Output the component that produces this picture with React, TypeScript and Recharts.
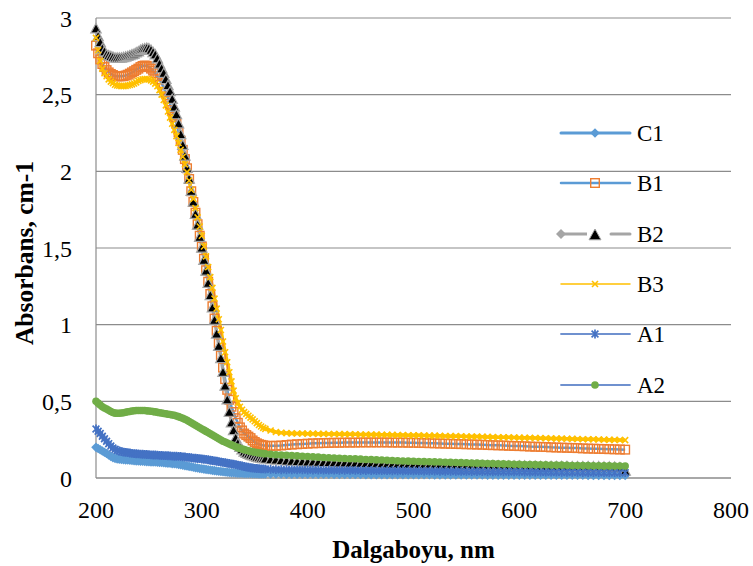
import { CartesianGrid, Label, Line, LineChart, XAxis, YAxis } from "recharts";

// wavelength grid, nm: every 2 nm up to 360, then every 5 nm to 700
const wavelengths = [
  ...Array.from({ length: 81 }, (_, i) => 200 + i * 2),
  ...Array.from({ length: 68 }, (_, i) => 365 + i * 5),
];

const c1 = [
  // 200-360 (2 nm)
  0.2, 0.192, 0.184, 0.176, 0.168, 0.16, 0.15, 0.14, 0.133, 0.128,
  0.125, 0.123, 0.121, 0.119, 0.118, 0.117, 0.116, 0.115, 0.113, 0.112,
  0.111, 0.11, 0.109, 0.108, 0.107, 0.106, 0.105, 0.104, 0.104, 0.103,
  0.102, 0.101, 0.1, 0.098, 0.097, 0.096, 0.094, 0.093, 0.091, 0.089,
  0.087, 0.084, 0.081, 0.078, 0.076, 0.073, 0.07, 0.067, 0.065, 0.062,
  0.06, 0.058, 0.056, 0.054, 0.052, 0.05, 0.048, 0.046, 0.044, 0.042,
  0.041, 0.039, 0.038, 0.036, 0.035, 0.034, 0.033, 0.032, 0.031, 0.031,
  0.03, 0.03, 0.029, 0.029, 0.028, 0.028, 0.028, 0.027, 0.027, 0.027,
  0.027,
  // 365-700 (5 nm)
  0.026, 0.026, 0.026, 0.025, 0.025, 0.025, 0.025,
  0.025, 0.024, 0.024, 0.024, 0.024, 0.023, 0.023, 0.023, 0.023, 0.023,
  0.023, 0.022, 0.022, 0.022, 0.022, 0.022, 0.022, 0.021, 0.021, 0.021,
  0.021, 0.021, 0.021, 0.021, 0.02, 0.02, 0.02, 0.02, 0.02, 0.02,
  0.02, 0.02, 0.02, 0.02, 0.019, 0.019, 0.019, 0.019, 0.019, 0.019,
  0.019, 0.019, 0.019, 0.018, 0.018, 0.018, 0.018, 0.018, 0.018, 0.018,
  0.018, 0.018, 0.018, 0.017, 0.017, 0.017, 0.017, 0.017, 0.017, 0.017,
  0.017,
];

const b1 = [
  2.82, 2.77, 2.73, 2.7, 2.68, 2.66, 2.645, 2.635, 2.628, 2.622,
  2.62, 2.62, 2.62, 2.621, 2.625, 2.63, 2.637, 2.645, 2.653, 2.662,
  2.67, 2.68, 2.687, 2.69, 2.688, 2.68, 2.67, 2.657, 2.64, 2.62,
  2.6, 2.575, 2.545, 2.515, 2.48, 2.44, 2.4, 2.355, 2.31, 2.255,
  2.2, 2.14, 2.08, 2.02, 1.95, 1.87, 1.8, 1.73, 1.655, 1.58,
  1.51, 1.43, 1.355, 1.28, 1.2, 1.12, 1.04, 0.96, 0.88, 0.8,
  0.72, 0.645, 0.575, 0.51, 0.465, 0.43, 0.39, 0.36, 0.33, 0.31,
  0.29, 0.28, 0.27, 0.26, 0.245, 0.235, 0.226, 0.22, 0.216, 0.213,
  0.21,
  0.21, 0.21, 0.212, 0.215, 0.218, 0.22, 0.222,
  0.224, 0.226, 0.227, 0.228, 0.229, 0.23, 0.23, 0.231, 0.231, 0.231,
  0.232, 0.232, 0.232, 0.232, 0.232, 0.232, 0.231, 0.231, 0.231, 0.23,
  0.23, 0.229, 0.228, 0.227, 0.226, 0.225, 0.224, 0.223, 0.222, 0.221,
  0.22, 0.219, 0.218, 0.217, 0.215, 0.214, 0.213, 0.212, 0.21, 0.209,
  0.208, 0.207, 0.205, 0.204, 0.203, 0.202, 0.2, 0.199, 0.198, 0.197,
  0.196, 0.195, 0.193, 0.192, 0.191, 0.19, 0.189, 0.188, 0.187, 0.186,
  0.185,
];

const b2 = [
  2.93, 2.88, 2.84, 2.8, 2.78, 2.76, 2.755, 2.75, 2.745, 2.74,
  2.74, 2.74, 2.74, 2.742, 2.746, 2.75, 2.755, 2.76, 2.765, 2.773,
  2.78, 2.79, 2.797, 2.8, 2.803, 2.8, 2.79, 2.775, 2.76, 2.735,
  2.7, 2.67, 2.64, 2.6, 2.56, 2.52, 2.47, 2.42, 2.37, 2.31,
  2.24, 2.17, 2.1, 2.02, 1.95, 1.87, 1.8, 1.72, 1.65, 1.57,
  1.5, 1.42, 1.35, 1.27, 1.19, 1.11, 1.03, 0.94, 0.86, 0.78,
  0.69, 0.6, 0.51, 0.43, 0.36, 0.31, 0.26, 0.225, 0.2, 0.185,
  0.17, 0.162, 0.155, 0.15, 0.145, 0.14, 0.136, 0.132, 0.129, 0.127,
  0.125,
  0.12, 0.118, 0.115, 0.112, 0.11, 0.108, 0.106,
  0.105, 0.104, 0.103, 0.102, 0.101, 0.1, 0.099, 0.098, 0.097, 0.096,
  0.095, 0.094, 0.093, 0.092, 0.091, 0.09, 0.089, 0.089, 0.088, 0.088,
  0.087, 0.087, 0.086, 0.086, 0.085, 0.085, 0.084, 0.084, 0.083, 0.083,
  0.082, 0.082, 0.081, 0.081, 0.08, 0.08, 0.08, 0.079, 0.079, 0.078,
  0.078, 0.078, 0.077, 0.077, 0.076, 0.076, 0.076, 0.075, 0.075, 0.075,
  0.074, 0.074, 0.074, 0.073, 0.073, 0.073, 0.072, 0.072, 0.071, 0.068,
  0.045,
];

const b3 = [
  2.87, 2.79, 2.72, 2.67, 2.64, 2.62, 2.6, 2.585, 2.575, 2.565,
  2.56, 2.558, 2.556, 2.556, 2.557, 2.56, 2.563, 2.567, 2.573, 2.58,
  2.59, 2.595, 2.6, 2.602, 2.602, 2.6, 2.593, 2.585, 2.572, 2.555,
  2.53, 2.5, 2.465, 2.43, 2.39, 2.35, 2.31, 2.27, 2.23, 2.185,
  2.14, 2.095, 2.045, 1.995, 1.94, 1.88, 1.82, 1.76, 1.7, 1.64,
  1.58, 1.51, 1.445, 1.375, 1.31, 1.24, 1.17, 1.105, 1.035, 0.965,
  0.89, 0.82, 0.755, 0.69, 0.63, 0.57, 0.52, 0.49, 0.465, 0.445,
  0.43, 0.418, 0.406, 0.394, 0.382, 0.37, 0.358, 0.346, 0.336, 0.327,
  0.32,
  0.31, 0.3, 0.295, 0.293, 0.291, 0.29, 0.29,
  0.289, 0.289, 0.288, 0.288, 0.287, 0.287, 0.286, 0.286, 0.285, 0.285,
  0.284, 0.284, 0.283, 0.283, 0.282, 0.282, 0.281, 0.28, 0.28, 0.279,
  0.278, 0.278, 0.277, 0.276, 0.276, 0.275, 0.274, 0.273, 0.273, 0.272,
  0.271, 0.27, 0.27, 0.269, 0.268, 0.267, 0.266, 0.266, 0.265, 0.264,
  0.263, 0.262, 0.262, 0.261, 0.26, 0.259, 0.258, 0.257, 0.257, 0.256,
  0.255, 0.254, 0.253, 0.253, 0.252, 0.251, 0.25, 0.249, 0.249, 0.248,
  0.247,
];

const a1 = [
  0.32, 0.305, 0.29, 0.272, 0.256, 0.24, 0.224, 0.208, 0.196, 0.187,
  0.18, 0.176, 0.172, 0.169, 0.167, 0.165, 0.163, 0.161, 0.159, 0.158,
  0.157, 0.156, 0.155, 0.154, 0.153, 0.152, 0.151, 0.15, 0.15, 0.149,
  0.148, 0.147, 0.146, 0.146, 0.145, 0.144, 0.143, 0.142, 0.142, 0.141,
  0.14, 0.138, 0.137, 0.135, 0.134, 0.132, 0.13, 0.129, 0.127, 0.126,
  0.124, 0.122, 0.121, 0.119, 0.116, 0.114, 0.112, 0.109, 0.107, 0.104,
  0.102, 0.1, 0.097, 0.095, 0.092, 0.09, 0.087, 0.084, 0.081, 0.078,
  0.075, 0.072, 0.07, 0.067, 0.065, 0.063, 0.062, 0.061, 0.06, 0.059,
  0.058,
  0.056, 0.055, 0.054, 0.054, 0.053, 0.053, 0.053,
  0.052, 0.052, 0.052, 0.051, 0.051, 0.051, 0.05, 0.05, 0.05, 0.05,
  0.049, 0.049, 0.049, 0.048, 0.048, 0.048, 0.047, 0.047, 0.047, 0.046,
  0.046, 0.046, 0.045, 0.045, 0.045, 0.044, 0.044, 0.044, 0.043, 0.043,
  0.043, 0.042, 0.042, 0.042, 0.041, 0.041, 0.041, 0.04, 0.04, 0.04,
  0.04, 0.039, 0.039, 0.039, 0.038, 0.038, 0.038, 0.038, 0.037, 0.037,
  0.037, 0.037, 0.036, 0.036, 0.036, 0.036, 0.035, 0.035, 0.035, 0.035,
  0.035,
];

const a2 = [
  0.5, 0.488, 0.476, 0.465, 0.457, 0.45, 0.442, 0.434, 0.427, 0.423,
  0.422, 0.422, 0.424, 0.426, 0.429, 0.432, 0.434, 0.437, 0.439, 0.44,
  0.44, 0.44, 0.44, 0.44, 0.438, 0.437, 0.435, 0.433, 0.431, 0.428,
  0.426, 0.424, 0.421, 0.419, 0.416, 0.414, 0.411, 0.409, 0.404, 0.4,
  0.395, 0.389, 0.383, 0.376, 0.368, 0.36, 0.352, 0.344, 0.336, 0.328,
  0.32, 0.312, 0.304, 0.296, 0.288, 0.28, 0.272, 0.264, 0.256, 0.248,
  0.24, 0.234, 0.228, 0.222, 0.216, 0.21, 0.204, 0.198, 0.193, 0.189,
  0.185, 0.181, 0.177, 0.174, 0.171, 0.168, 0.166, 0.163, 0.161, 0.159,
  0.158,
  0.155, 0.152, 0.15, 0.148, 0.146, 0.144, 0.142,
  0.14, 0.138, 0.136, 0.134, 0.132, 0.13, 0.128, 0.127, 0.126, 0.125,
  0.123, 0.121, 0.12, 0.118, 0.117, 0.115, 0.114, 0.112, 0.111, 0.11,
  0.109, 0.108, 0.107, 0.106, 0.105, 0.104, 0.103, 0.102, 0.101, 0.1,
  0.099, 0.098, 0.097, 0.096, 0.095, 0.094, 0.093, 0.092, 0.091, 0.09,
  0.089, 0.088, 0.088, 0.087, 0.086, 0.086, 0.085, 0.084, 0.084, 0.083,
  0.082, 0.082, 0.081, 0.081, 0.08, 0.08, 0.079, 0.079, 0.078, 0.078,
  0.078,
];

const seriesNames = ["C1", "B1", "B2", "B3", "A1", "A2"];
const xTicks = [200, 300, 400, 500, 600, 700, 800];
const yTicks = [0, 0.5, 1, 1.5, 2, 2.5, 3];

const rows = wavelengths.map((nm, i) => ({
  nm,
  C1: c1[i],
  B1: b1[i],
  B2: b2[i],
  B3: b3[i],
  A1: a1[i],
  A2: a2[i],
}));

const SERIF = "Liberation Serif";
const GRID = "#8c8c8c";
const LIGHT_BLUE = "#5b9bd5";
const ORANGE = "#ed7d31";
const GREY = "#a5a5a5";
const GOLD = "#ffc000";
const BLUE = "#4472c4";
const GREEN = "#70ad47";

type Dot = { cx?: number; cy?: number; index?: number };

const diamond = (x: number, y: number, r: number) =>
  `M${x},${y - r}L${x + r},${y}L${x},${y + r}L${x - r},${y}Z`;
const triangle = (x: number, y: number, r: number) =>
  `M${x},${y - r}L${x + r},${y + r * 0.8}L${x - r},${y + r * 0.8}Z`;
const cross = (x: number, y: number, r: number) =>
  `M${x - r},${y - r}L${x + r},${y + r}M${x + r},${y - r}L${x - r},${y + r}`;
const star = (x: number, y: number, r: number) => `${cross(x, y, r)}M${x},${y - r * 1.3}L${x},${y + r * 1.3}`;

function markerFor(name: string, x: number, y: number, key?: number | string) {
  switch (name) {
    case "C1":
      return <path key={key} d={diamond(x, y, 4.8)} fill={LIGHT_BLUE} />;
    case "B1":
      return <rect key={key} x={x - 4.3} y={y - 4.3} width={8.6} height={8.6} fill="none" stroke={ORANGE} strokeWidth={1.4} />;
    case "B2":
      return <path key={key} d={triangle(x, y, 5.2)} fill="#000" stroke={GREY} strokeWidth={1.2} />;
    case "B3":
      return <path key={key} d={cross(x, y, 3)} stroke={GOLD} strokeWidth={1.6} fill="none" />;
    case "A1":
      return <path key={key} d={star(x, y, 3.4)} stroke={BLUE} strokeWidth={1.7} fill="none" />;
    default:
      return <circle key={key} cx={x} cy={y} r={3.8} fill={GREEN} />;
  }
}

const dotOf = (name: string) => (p: Dot) =>
  p.cx == null || p.cy == null ? <g key={p.index} /> : markerFor(name, p.cx, p.cy, p.index);

const lineStyle: Record<string, { stroke: string; width: number }> = {
  C1: { stroke: LIGHT_BLUE, width: 5 },
  B1: { stroke: LIGHT_BLUE, width: 2.5 },
  B2: { stroke: GREY, width: 3 },
  B3: { stroke: GOLD, width: 3.5 },
  A1: { stroke: BLUE, width: 4 },
  A2: { stroke: GREEN, width: 4 },
};

const legendLine: Record<string, { stroke: string; width: number }> = {
  C1: { stroke: LIGHT_BLUE, width: 3 },
  B1: { stroke: LIGHT_BLUE, width: 2.5 },
  B3: { stroke: GOLD, width: 1.5 },
  A1: { stroke: "#6f91cf", width: 1.8 },
  A2: { stroke: "#6f91cf", width: 1.8 },
};

const legendRows = [23, 73, 124, 174, 224, 275];

function ChartLegend() {
  return (
    <svg width={213} height={300} style={{ position: "absolute", left: 540, top: 110 }}>
      {seriesNames.map((name, i) => {
        const y = legendRows[i];
        return (
          <g key={name}>
            {name === "B2" ? (
              <>
                <line x1={21} x2={47} y1={y} y2={y} stroke={GREY} strokeWidth={3} />
                <line x1={71} x2={90} y1={y} y2={y} stroke={GREY} strokeWidth={3} strokeLinecap="round" />
                <path d={diamond(21, y, 5)} fill={GREY} />
                <path d={triangle(55, y + 1, 6)} fill="#000" stroke={GREY} strokeWidth={1} />
              </>
            ) : (
              <>
                <line
                  x1={21}
                  x2={90}
                  y1={y}
                  y2={y}
                  stroke={legendLine[name].stroke}
                  strokeWidth={legendLine[name].width}
                  strokeLinecap="round"
                />
                {markerFor(name, 55, y)}
              </>
            )}
            <text x={97} y={y + 8} fontFamily={SERIF} fontSize={23} fill="#000">
              {name}
            </text>
          </g>
        );
      })}
    </svg>
  );
}

export default function App() {
  return (
    <div style={{ position: "absolute", left: 0, top: 0, width: 753, height: 566, background: "#fff" }}>
      <LineChart width={753} height={566} data={rows} margin={{ top: 18, right: 22, bottom: 38, left: 0 }}>
        <CartesianGrid vertical={false} stroke={GRID} strokeWidth={1.2} />
        <XAxis
          dataKey="nm"
          type="number"
          domain={[200, 800]}
          ticks={xTicks}
          tickLine={false}
          tickSize={0}
          tickMargin={23}
          height={50}
          axisLine={{ stroke: GRID, strokeWidth: 1.2 }}
          tick={{ fill: "#000", fontSize: 24, fontFamily: SERIF }}
        >
          <Label
            content={({ viewBox }: any) => (
              <text
                x={viewBox.x + viewBox.width / 2}
                y={viewBox.y + 80}
                textAnchor="middle"
                fontFamily={SERIF}
                fontWeight={700}
                fontSize={25}
                fill="#000"
              >
                Dalgaboyu, nm
              </text>
            )}
          />
        </XAxis>
        <YAxis
          type="number"
          domain={[0, 3]}
          ticks={yTicks}
          width={96}
          tickLine={false}
          tickSize={0}
          tickMargin={24}
          axisLine={{ stroke: GRID, strokeWidth: 1.2 }}
          tick={{ fill: "#000", fontSize: 24, fontFamily: SERIF }}
          tickFormatter={(v: number) => String(v).replace(".", ",")}
        >
          <Label
            content={({ viewBox }: any) => {
              const x = 33;
              const y = viewBox.y + viewBox.height / 2 + 5;
              return (
                <text
                  x={x}
                  y={y}
                  transform={`rotate(-90 ${x} ${y})`}
                  textAnchor="middle"
                  fontFamily={SERIF}
                  fontWeight={700}
                  fontSize={25.5}
                  fill="#000"
                >
                  Absorbans, cm-1
                </text>
              );
            }}
          />
        </YAxis>
        {seriesNames.map((name) => (
          <Line
            key={name}
            dataKey={name}
            type="linear"
            stroke={lineStyle[name].stroke}
            strokeWidth={lineStyle[name].width}
            dot={dotOf(name)}
            activeDot={false}
            isAnimationActive={false}
          />
        ))}
      </LineChart>
      <ChartLegend />
    </div>
  );
}
